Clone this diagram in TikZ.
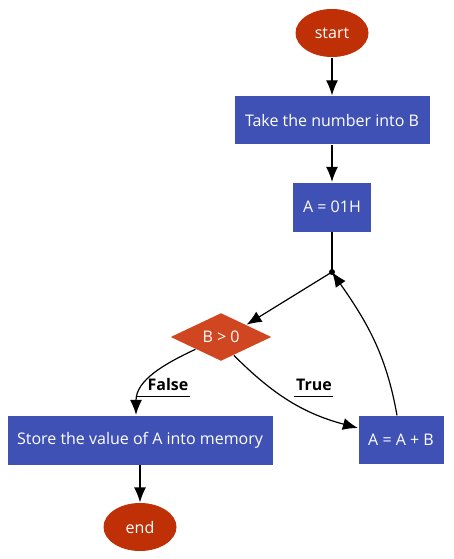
\documentclass[tikz,border=0pt]{standalone}
\usepackage{fontspec}
\setmainfont{Open Sans}
\usetikzlibrary{shapes.geometric,arrows.meta}

\begin{document}
\begin{tikzpicture}[x=1pt, y=-1pt, >={Latex[length=15pt,width=12pt]},
    line width=1.2pt,
    khoi/.style={rectangle, fill=myblue, text=white, minimum height=48pt, inner sep=0pt},
    bien/.style={ellipse, fill=myred, text=white, minimum width=73pt, minimum height=48pt, inner sep=0pt},
    re/.style={diamond, aspect=2.1, fill=myorange, text=white, minimum width=101pt, minimum height=48pt, inner sep=0pt},
    nhan/.style={font=\bfseries, text height=11pt, text depth=0pt, inner xsep=1pt, inner ysep=5pt}]
    % Màu sắc
    \definecolor{myblue}{RGB}{63, 81, 181}
    \definecolor{myred}{RGB}{192, 48, 6}
    \definecolor{myorange}{RGB}{208, 70, 32}
    \fontsize{16}{19}\selectfont

    % Khung hình
    \useasboundingbox (0, 0) rectangle (453, 559);

    % Các khối
    \node[bien] (start) at (332, 33) {start};
    \node[khoi, minimum width=195pt] (take) at (332, 120) {Take the number into B};
    \node[khoi, minimum width=78pt, minimum height=49pt] (init) at (332, 207) {A = 01H};
    \coordinate (join) at (332, 272);
    \node[re] (cond) at (221, 337) {B > 0};
    \node[khoi, minimum width=265pt, minimum height=49pt] (store) at (140, 440) {Store the value of A into memory};
    \node[khoi, minimum width=85pt] (add) at (401, 440) {A = A + B};
    \node[bien] (end) at (140, 527) {end};

    % Các mũi tên
    \draw[->] (start) -- (take);
    \draw[->] (take) -- (init);
    \draw (init) -- (join);
    \fill (join) circle (3pt);
    \draw[->] (join) -- (cond.north east);
    \draw[->] (cond.south west) to[out=205, in=90] ([xshift=-4pt]store.north);
    \draw[->] (cond.-55) to[out=-45, in=165] ([yshift=12pt]add.west);
    \draw[->] ([xshift=-4pt]add.north) to[out=100, in=-55] (join);
    \draw[->] (store) -- (end);

    % Nhãn
    \node[nhan] (lfalse) at (168, 385) {False};
    \draw[line width=1pt] ([xshift=-10pt]lfalse.south west) -- (lfalse.south east);
    \node[nhan] (ltrue) at (314, 385) {True};
    \draw[line width=1pt] ([xshift=-1pt]ltrue.south west) -- (ltrue.south east);

\end{tikzpicture}
\end{document}
